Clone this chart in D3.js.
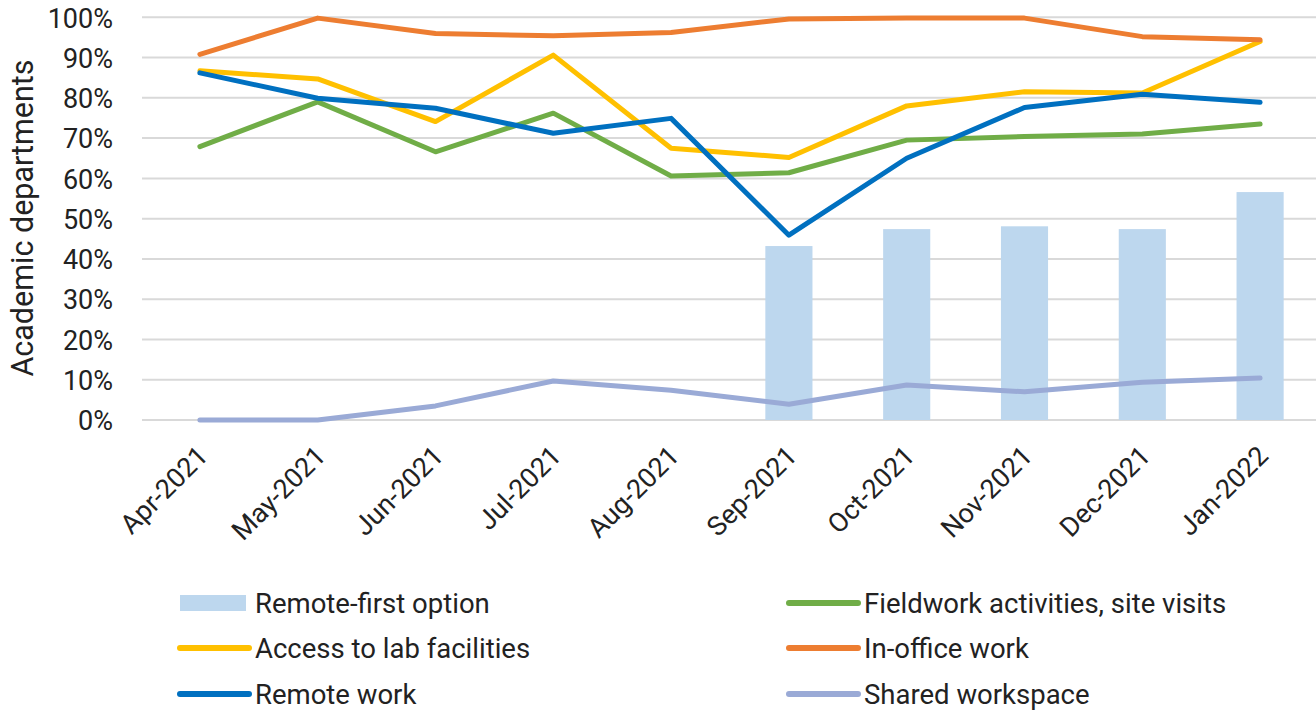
<!DOCTYPE html>
<html>
<head>
<meta charset="utf-8">
<script src="https://cdn.jsdelivr.net/npm/d3@7"></script>
<style>
  html, body { margin: 0; padding: 0; background: #fff; }
  svg { display: block; }
  text { font-family: Roboto, "Noto Sans", sans-serif; fill: #222; }
</style>
</head>
<body>
<svg id="chart" width="1316" height="710"></svg>
<script>
const months = ["Apr-2021","May-2021","Jun-2021","Jul-2021","Aug-2021","Sep-2021","Oct-2021","Nov-2021","Dec-2021","Jan-2022"];
const remoteFirst = [null,null,null,null,null,0.432,0.474,0.481,0.474,0.566];
const fieldwork   = [0.679,0.790,0.666,0.762,0.606,0.614,0.695,0.704,0.710,0.735];
const labAccess   = [0.867,0.847,0.741,0.906,0.675,0.652,0.780,0.815,0.812,0.940];
const inOffice    = [0.908,0.998,0.960,0.954,0.962,0.996,0.998,0.998,0.952,0.944];
const remoteWork  = [0.862,0.799,0.774,0.712,0.749,0.459,0.650,0.776,0.809,0.789];
const shared      = [0.000,0.000,0.035,0.097,0.074,0.039,0.087,0.070,0.094,0.104];
const yTicks = [0,0.1,0.2,0.3,0.4,0.5,0.6,0.7,0.8,0.9,1.0];
const yTitle = "Academic departments";

const barSeries = {name:"Remote-first option", values: remoteFirst, color:"#BDD7EE"};
const lineSeries = [
  {name:"Fieldwork activities, site visits", values: fieldwork, color:"#70AD47"},
  {name:"Access to lab facilities", values: labAccess, color:"#FFC000"},
  {name:"In-office work", values: inOffice, color:"#ED7D31"},
  {name:"Remote work", values: remoteWork, color:"#0070C0"},
  {name:"Shared workspace", values: shared, color:"#9AAAD6"}
];

const svg = d3.select("#chart");
const W = 1316;
const x = d3.scaleBand().domain(months).range([141, 1319]).padding(0);
const cx = m => x(m) + x.bandwidth()/2;
const y = d3.scaleLinear().domain([0,1]).range([420, 17.3]);

// gridlines
svg.append("g").selectAll("line").data(yTicks).join("line")
  .attr("x1", 142).attr("x2", W)
  .attr("y1", d => y(d)).attr("y2", d => y(d))
  .attr("stroke", "#D9D9D9").attr("stroke-width", 2);

// y axis labels
const yAxis = d3.axisLeft(y).tickValues(yTicks).tickFormat(d3.format(".0%")).tickSize(0).tickPadding(0);
const gy = svg.append("g").attr("transform", "translate(113,0)").call(yAxis);
gy.select(".domain").remove();
gy.selectAll("text").attr("font-size", 27).attr("fill", "#222")
  .style("font-family", "Roboto").attr("dy", "0.36em");

// y title
svg.append("text")
  .attr("transform", "translate(33,218) rotate(-90)")
  .attr("text-anchor", "middle")
  .attr("font-size", 30.5)
  .text(yTitle);

// bars
const bw = x.bandwidth() * 0.4;
svg.append("g").selectAll("rect")
  .data(months.map((m,i) => ({m, v: barSeries.values[i]})).filter(d => d.v != null))
  .join("rect")
  .attr("x", d => cx(d.m) - bw/2).attr("width", bw)
  .attr("y", d => y(d.v)).attr("height", d => y(0) - y(d.v))
  .attr("fill", barSeries.color);

// lines
const line = d3.line().x((d,i) => cx(months[i])).y(d => y(d));
svg.append("g").selectAll("path").data(lineSeries).join("path")
  .attr("d", d => line(d.values))
  .attr("fill", "none").attr("stroke", d => d.color)
  .attr("stroke-width", 5).attr("stroke-linejoin", "round").attr("stroke-linecap", "round");

// x axis labels
const xAxis = d3.axisBottom(x).tickSize(0).tickPadding(0);
const gx = svg.append("g").call(xAxis);
gx.select(".domain").remove();
gx.selectAll(".tick").attr("transform", d => `translate(${cx(d)-4},444)`);
gx.selectAll("text").attr("font-size", 27).attr("fill", "#222")
  .style("font-family", "Roboto")
  .attr("text-anchor", "end").attr("y", 0).attr("dy", "0.71em")
  .attr("transform", "rotate(-45)");

// legend
const legendItems = [
  {s: barSeries, type: "bar", col: 0, row: 0},
  {s: lineSeries[0], type: "line", col: 1, row: 0},
  {s: lineSeries[1], type: "line", col: 0, row: 1},
  {s: lineSeries[2], type: "line", col: 1, row: 1},
  {s: lineSeries[3], type: "line", col: 0, row: 2},
  {s: lineSeries[4], type: "line", col: 1, row: 2}
];
const colX = [180, 789];
const rowY = [603, 648, 694];
const lg = svg.append("g").selectAll("g").data(legendItems).join("g")
  .attr("transform", d => `translate(${colX[d.col]},${rowY[d.row]})`);
lg.filter(d => d.type === "bar").append("rect")
  .attr("x", 0).attr("y", -8).attr("width", 66).attr("height", 16).attr("fill", d => d.s.color);
lg.filter(d => d.type === "line").append("line")
  .attr("x1", 0).attr("x2", 69).attr("y1", 0).attr("y2", 0)
  .attr("stroke", d => d.s.color).attr("stroke-width", 6).attr("stroke-linecap", "round");
lg.append("text").attr("x", 75).attr("dy", "0.36em").attr("font-size", 27.5).text(d => d.s.name);
</script>
</body>
</html>
